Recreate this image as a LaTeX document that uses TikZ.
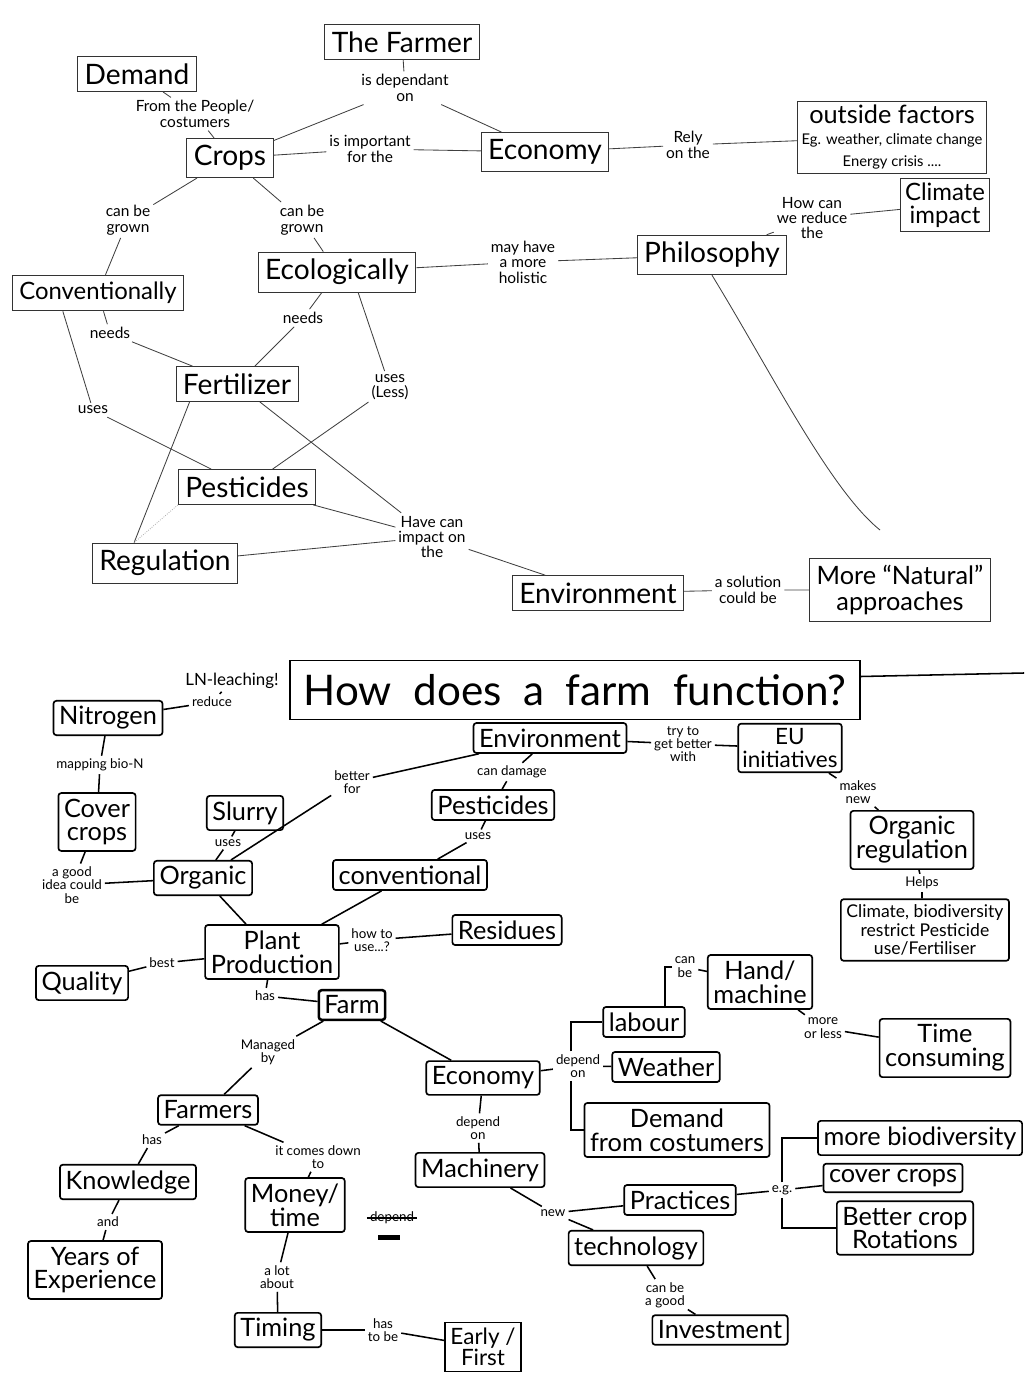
\documentclass[tikz,border=0pt]{standalone}
\usepackage{fontspec}
\setmainfont{Lato}
\usetikzlibrary{positioning}
\tikzset{
  pbox/.style={draw=black!80, line width=0.6pt, align=center, inner sep=5pt,
               font=\fontsize{20}{21}\selectfont},
  plab/.style={align=center, inner sep=2pt, font=\fontsize{11}{11}\selectfont},
  plink/.style={draw=black!75, line width=0.6pt},
  mbox/.style={draw, line width=1.2pt, rounded corners=2pt, align=center, inner sep=4pt,
               font=\fontsize{18}{17}\selectfont},
  mlab/.style={align=center, inner sep=2pt, font=\fontsize{9.5}{9.5}\selectfont},
  mlink/.style={draw, line width=1.1pt},
}

\begin{document}
\begin{tikzpicture}[x=0.025cm, y=-0.025cm]
  \useasboundingbox (0,0) rectangle (1024,1378);

  % first map: crops
  \node[pbox] (farmer) at (402,42) {The Farmer};
  \node[pbox] (demand) at (137,74) {Demand};
  \node[pbox] (crops) at (230,158) {Crops};
  \node[pbox] (econ) at (545,152) {Economy};
  \node[pbox, inner sep=3pt, font=\fontsize{18}{15}\selectfont] (outside) at (892,137)
    {outside factors\\{\fontsize{10.5}{10}\selectfont Eg. weather, climate change}\\{\fontsize{10.5}{10}\selectfont Energy crisis ....}};
  \node[pbox, inner sep=3pt, font=\fontsize{17}{16}\selectfont] (climate) at (945,205) {Climate\\impact};
  \node[pbox] (philo) at (712,255) {Philosophy};
  \node[pbox, font=\fontsize{17}{18}\selectfont] (conv) at (98,293) {Conventionally};
  \node[pbox] (eco) at (337,272) {Ecologically};
  \node[pbox] (fert) at (237,384) {Fertilizer};
  \node[pbox] (pest) at (247,487) {Pesticides};
  \node[pbox] (regul) at (165,563) {Regulation};
  \node[pbox] (envtop) at (598,593) {Environment};
  \node[pbox, font=\fontsize{18}{18}\selectfont] (natural) at (900,590) {More ``Natural''\\approaches};

  \node[plab] (ldep) at (405,88) {is dependant\\on};
  \node[plab] (lpeople) at (195,114) {From the People/\\costumers};
  \node[plab] (limp) at (370,149) {is important\\for the};
  \node[plab] (lrely) at (688,145) {Rely\\on the};
  \node[plab] (lgrowa) at (128,220) {can be\\grown};
  \node[plab] (lgrowb) at (302,220) {can be\\grown};
  \node[plab] (lholi) at (523,262) {may have\\a more\\holistic};
  \node[plab] (lreduce) at (812,218) {How can\\we reduce\\the};
  \node[plab] (lneedsa) at (110,333) {needs};
  \node[plab] (lneedsb) at (303,318) {needs};
  \node[plab] (lusesa) at (93,410) {uses};
  \node[plab] (lusesb) at (390,387) {uses\\(Less)};
  \node[plab] (limpact) at (432,537) {Have can\\impact on\\the};
  \node[plab] (lsol) at (748,590) {a solution\\could be};
  \coordinate (philoend) at (880,530);

  \draw[plink] (farmer) -- (ldep);
  \draw[plink] (ldep) -- (crops);
  \draw[plink] (ldep) -- (econ);
  \draw[plink] (demand) -- (lpeople) -- (crops);
  \draw[plink] (crops) -- (limp) -- (econ);
  \draw[plink] (econ) -- (lrely) -- (outside);
  \draw[plink] (crops) -- (lgrowa) -- (conv);
  \draw[plink] (crops) -- (lgrowb) -- (eco);
  \draw[plink] (eco) -- (lholi) -- (philo);
  \draw[plink] (philo) -- (lreduce) -- (climate);
  \draw[plink] (philo.south) .. controls (770,370) and (830,490) .. (philoend);
  \draw[plink] (conv) -- (lneedsa) -- (fert);
  \draw[plink] (eco) -- (lneedsb) -- (fert);
  \draw[plink] ([xshift=-25pt]conv.south) -- (lusesa) -- (pest);
  \draw[plink] ([xshift=15pt]eco.south) -- (lusesb) -- (pest);
  \draw[plink] ([xshift=10pt]fert.south west) -- ([xshift=30pt]regul.north west);
  \draw[plink, densely dotted, black!30] (pest.south west) -- ([xshift=30pt]regul.north west);
  \draw[plink] (fert) -- (limpact);
  \draw[plink] (pest) -- (limpact);
  \draw[plink] (regul) -- (limpact);
  \draw[plink] (limpact) -- (envtop);
  \draw[plink] (envtop) -- (lsol) -- (natural);

  % second map: how does a farm function
  \node[mbox, rounded corners=0pt, font=\fontsize{30}{30}\selectfont, minimum width=405pt,
        minimum height=42pt] (title) at (575,690) {How \ does \ a \ farm \ function?};
  \coordinate (titleline) at (1024,673);
  \node[mlab, font=\fontsize{12}{12}\selectfont] (lnleach) at (232,681) {LN-leaching!};
  \node[mlab] (lreducen) at (212,702) {reduce};
  \node[mbox] (nitro) at (108,718) {Nitrogen};
  \node[mlab] (lbio) at (100,765) {mapping bio-N};
  \node[mbox] (cover) at (97,822) {Cover\\crops};
  \node[mlab] (lidea) at (72,885) {a good\\idea could\\be};
  \node[mbox] (organic) at (203,878) {Organic};
  \node[mbox] (slurry) at (245,813) {Slurry};
  \node[mlab] (lusesc) at (228,843) {uses};
  \node[mlab] (lbetter) at (352,782) {better\\for};
  \node[mbox] (envbot) at (550,738) {Environment};
  \node[mlab] (ldamage) at (512,772) {can damage};
  \node[mbox] (pestb) at (493,805) {Pesticides};
  \node[mlab] (lusesd) at (478,836) {uses};
  \node[mbox] (convb) at (410,875) {conventional};
  \node[mlab] (ltry) at (683,744) {try to\\get better\\with};
  \node[mbox, inner sep=3pt, font=\fontsize{16}{17}\selectfont] (eu) at (790,748) {EU\\initiatives};
  \node[mlab] (lmakes) at (858,792) {makes\\new};
  \node[mbox] (orgreg) at (912,840) {Organic\\regulation};
  \node[mlab] (lhelps) at (922,883) {Helps};
  \node[mbox, anchor=west, font=\fontsize{12.5}{13}\selectfont] (climb) at (840,930)
    {Climate, biodiversity\\restrict Pesticide\\use/Fertiliser};
  \node[mbox] (plant) at (272,952) {Plant\\Production};
  \node[mlab] (lhow) at (372,940) {how to\\use...?};
  \node[mbox] (resid) at (507,930) {Residues};
  \node[mbox] (quality) at (82,983) {Quality};
  \node[mlab] (lbest) at (162,963) {best};
  \node[mlab] (lhas) at (265,996) {has};
  \node[mbox, line width=1.8pt] (farm) at (352,1005) {Farm};
  \node[mlab] (lmanaged) at (268,1052) {Managed\\by};
  \node[mbox] (farmers) at (208,1110) {Farmers};
  \node[mbox] (econb) at (483,1078) {Economy};
  \node[mlab] (ldepa) at (578,1066) {depend\\on};
  \node[mbox] (labour) at (644,1022) {labour};
  \node[mbox] (weather) at (666,1067) {Weather};
  \node[mbox] (demandb) at (677,1130) {Demand\\from costumers};
  \node[mlab] (lcanbe) at (685,967) {can\\be};
  \node[mbox] (hand) at (760,982) {Hand/\\machine};
  \node[mlab] (lmore) at (823,1028) {more\\or less};
  \node[mbox] (timec) at (945,1048) {Time\\consuming};
  \node[mlab] (ldepb) at (478,1128) {depend\\on};
  \node[mbox] (mach) at (480,1170) {Machinery};
  \node[mlab] (lnew) at (553,1213) {new};
  \node[mbox] (pract) at (680,1200) {Practices};
  \node[mbox] (tech) at (636,1248) {technology};
  \node[mlab] (lgood) at (665,1295) {can be\\a good};
  \node[mbox] (invest) at (720,1330) {Investment};
  \node[mlab] (leg) at (782,1190) {e.g.};
  \node[mbox] (biod) at (920,1138) {more biodiversity};
  \node[mbox] (coverb) at (893,1178) {cover crops};
  \node[mbox] (rotat) at (905,1228) {Better crop\\Rotations};
  \node[mlab] (lhasb) at (152,1140) {has};
  \node[mbox] (know) at (128,1182) {Knowledge};
  \node[mlab] (land) at (108,1222) {and};
  \node[mbox] (years) at (95,1270) {Years of\\Experience};
  \node[mlab] (lcomes) at (318,1157) {it comes down\\to};
  \node[mbox] (money) at (295,1205) {Money/\\time};
  \node[mlab] (lstruck) at (392,1218) {depend};
  \node[mlab] (llot) at (277,1277) {a lot\\about};
  \node[mbox] (timing) at (278,1330) {Timing};
  \node[mlab] (lhasto) at (383,1330) {has\\to be};
  \node[mbox, rounded corners=0pt, font=\fontsize{16}{15}\selectfont] (early) at (483,1347) {Early /\\First};

  \draw[mlink] ([yshift=-12pt]title.north east) -- (titleline);
  \draw[mlink] (lnleach) -- (lreducen);
  \draw[mlink] (nitro) -- (lreducen);
  \draw[mlink] (nitro) -- (lbio) -- (cover);
  \draw[mlink] (cover) -- (lidea) -- (organic);
  \draw[mlink] (slurry) -- (lusesc) -- (organic);
  \draw[mlink] (organic) -- (lbetter) -- (envbot);
  \draw[mlink] (envbot) -- (ldamage) -- (pestb);
  \draw[mlink] (pestb) -- (lusesd) -- (convb);
  \draw[mlink] (envbot) -- (ltry) -- (eu);
  \draw[mlink] (eu) -- (lmakes) -- (orgreg);
  \draw[mlink] (orgreg) -- (lhelps) -- (climb.north -| lhelps);
  \draw[mlink] (organic) -- (plant);
  \draw[mlink] (convb) -- (plant);
  \draw[mlink] (plant) -- (lhow) -- (resid);
  \draw[mlink] (quality) -- (lbest) -- (plant);
  \draw[mlink] (plant) -- (lhas) -- (farm);
  \draw[mlink] (farm) -- (lmanaged) -- (farmers);
  \draw[mlink] (farm) -- (econb);
  \draw[mlink] (econb) -- (ldepa) -- (weather);
  \draw[mlink] ([xshift=-5pt]ldepa.north) |- (labour.west);
  \draw[mlink] ([xshift=-5pt]ldepa.south) |- (demandb.west);
  \draw[mlink] ([xshift=15pt]labour.north) |- (lcanbe.west);
  \draw[mlink] (lcanbe) -- (hand);
  \draw[mlink] (hand) -- (lmore) -- (timec);
  \draw[mlink] (econb) -- (ldepb) -- (mach);
  \draw[mlink] (mach) -- (lnew) -- (pract);
  \draw[mlink] (lnew) -- (tech);
  \draw[mlink] (tech) -- (lgood) -- (invest);
  \draw[mlink] (pract) -- (leg) -- (coverb);
  \draw[mlink] (leg.north) |- (biod.west);
  \draw[mlink] (leg.south) |- (rotat.west);
  \draw[mlink] (farmers) -- (lhasb) -- (know);
  \draw[mlink] (know) -- (land) -- (years);
  \draw[mlink] (farmers) -- (lcomes) -- (money);
  \draw[mlink] (money) -- (llot) -- (timing);
  \draw[mlink] (timing) -- (lhasto) -- (early);
  \draw[line width=1.4pt] (lstruck.west) -- (lstruck.east);
  \fill (378,1235) rectangle (400,1240);
\end{tikzpicture}
\end{document}
